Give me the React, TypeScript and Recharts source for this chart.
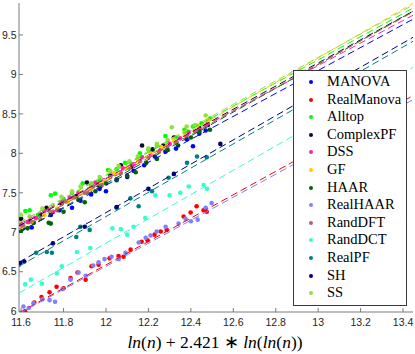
import React from 'react';
import { ComposedChart, Scatter, XAxis, YAxis, Legend } from 'recharts';

const seriesNames = [
  'MANOVA', 'RealManova', 'Alltop', 'ComplexPF', 'DSS', 'GF', 'HAAR',
  'RealHAAR', 'RandDFT', 'RandDCT', 'RealPF', 'SH', 'SS',
];
const seriesColors = [
  '#0000ff', '#ff0000', '#00ff00', '#0a0a2a', '#ff22aa', '#ffcc00', '#006600',
  '#8080ff', '#b36666', '#33ffcc', '#008080', '#000080', '#99dd44',
];

const xTicks = [11.6, 11.8, 12, 12.2, 12.4, 12.6, 12.8, 13, 13.2, 13.4];
const yTicks = [6, 6.5, 7, 7.5, 8, 8.5, 9, 9.5];

// fitted lines, value at both ends of the x range
const fitX = [11.59, 13.447];
const fitStartY = [7.0, 5.98, 7.12, 7.08, 7.1, 7.03, 7.0, 5.97, 7.04, 6.23, 6.57, 6.62, 7.12];
const fitEndY = [9.7, 8.73, 9.84, 9.8, 9.75, 9.9, 9.8, 8.68, 9.79, 9.09, 9.42, 9.47, 9.88];

const manovaPts = [
  [11.61, 7.05], [11.65, 7.06], [11.69, 7.22], [11.74, 7.22], [11.78, 7.28], [11.84, 7.31],
  [11.88, 7.4], [11.93, 7.48], [11.97, 7.55], [12.0, 7.52], [12.05, 7.66], [12.1, 7.7],
  [12.13, 7.78], [12.18, 7.85], [12.21, 8.04], [12.23, 7.96], [12.28, 8.02], [12.33, 8.06],
  [12.38, 8.18], [12.41, 8.09], [12.44, 8.25], [12.47, 8.29],
];
const realManovaPts = [
  [11.619, 6.0], [11.662, 6.11], [11.696, 6.18], [11.734, 6.24], [11.767, 6.31], [11.8, 6.29],
  [11.833, 6.42], [11.866, 6.49], [11.904, 6.4], [11.932, 6.57], [11.965, 6.59], [12.017, 6.67],
  [12.059, 6.7], [12.083, 6.69], [12.116, 6.78], [12.168, 6.88], [12.196, 6.9], [12.229, 6.97],
  [12.258, 7.01], [12.286, 7.03], [12.366, 7.2], [12.399, 7.25], [12.427, 7.33], [12.46, 7.28],
  [12.475, 7.26],
];
const alltopPts = [
  [11.59, 7.19], [11.62, 7.27], [11.64, 7.28], [11.68, 7.22], [11.74, 7.47], [11.76, 7.49],
  [11.8, 7.42], [11.84, 7.5], [11.89, 7.62], [11.93, 7.6], [11.97, 7.66], [12.01, 7.79],
  [12.05, 7.8], [12.09, 7.88], [12.12, 7.86], [12.16, 8.0], [12.2, 8.05], [12.24, 8.1],
  [12.28, 8.22], [12.33, 8.2], [12.37, 8.3], [12.41, 8.34], [12.45, 8.38], [12.49, 8.44],
];
const complexPfPts = [
  [11.6, 7.17], [11.64, 7.14], [11.72, 7.31], [11.79, 7.36], [11.86, 7.46], [11.91, 7.63],
  [11.96, 7.6], [12.02, 7.72], [12.07, 7.85], [12.12, 7.83], [12.17, 8.1], [12.22, 8.05],
  [12.27, 8.1], [12.32, 8.2], [12.38, 8.25], [12.44, 8.32], [12.48, 8.36],
];
const dssPts = [
  [11.6, 7.1], [11.63, 7.13], [11.67, 7.18], [11.71, 7.27], [11.75, 7.26], [11.79, 7.38],
  [11.83, 7.44], [11.87, 7.5], [11.91, 7.52], [11.95, 7.63], [11.99, 7.66], [12.04, 7.74],
  [12.08, 7.81], [12.13, 7.86], [12.17, 7.95], [12.21, 7.98], [12.26, 8.06], [12.3, 8.12],
  [12.35, 8.19], [12.39, 8.27], [12.44, 8.3], [12.48, 8.38],
];
const gfPts = [
  [11.6, 7.04], [11.66, 7.13], [11.71, 7.22], [11.77, 7.3], [11.82, 7.39], [11.88, 7.5],
  [11.93, 7.55], [11.99, 7.65], [12.04, 7.75], [12.1, 7.82], [12.15, 7.92], [12.21, 8.0],
  [12.26, 8.08], [12.32, 8.18], [12.37, 8.26], [12.43, 8.35], [12.48, 8.42],
];
const haarPts = [
  [11.6, 7.02], [11.63, 7.05], [11.66, 7.12], [11.73, 7.12], [11.74, 7.11], [11.8, 7.26],
  [11.87, 7.41], [11.9, 7.38], [11.95, 7.52], [12.0, 7.62], [12.05, 7.67], [12.1, 7.72],
  [12.14, 7.76], [12.19, 7.88], [12.24, 7.93], [12.29, 8.05], [12.34, 8.1], [12.4, 8.2],
  [12.44, 8.28], [12.49, 8.3],
];
const realHaarPts = [
  [11.611, 6.06], [11.636, 6.04], [11.658, 6.1], [11.7, 6.15], [11.734, 6.14], [11.76, 6.12],
  [11.795, 6.28], [11.833, 6.4], [11.871, 6.49], [11.904, 6.45], [11.94, 6.58], [11.965, 6.62],
  [11.993, 6.66], [12.026, 6.69], [12.06, 6.66], [12.092, 6.74], [12.154, 6.87], [12.187, 6.93],
  [12.21, 6.96], [12.239, 7.01], [12.281, 7.07], [12.342, 7.11], [12.375, 7.17], [12.4, 7.14],
  [12.432, 7.16], [12.47, 7.31], [12.498, 7.37],
];
const randDftPts = [
  [11.61, 7.08], [11.65, 7.13], [11.69, 7.17], [11.73, 7.28], [11.77, 7.28], [11.81, 7.39],
  [11.85, 7.44], [11.9, 7.5], [11.94, 7.58], [11.98, 7.6], [12.02, 7.7], [12.07, 7.75],
  [12.11, 7.82], [12.16, 7.9], [12.2, 7.95], [12.25, 8.02], [12.29, 8.1], [12.33, 8.14],
  [12.38, 8.23], [12.42, 8.28], [12.47, 8.35],
];
const randDctPts = [
  [11.619, 6.34], [11.646, 6.4], [11.698, 6.35], [11.768, 6.48], [11.792, 6.57], [11.863, 6.75],
  [11.926, 6.8], [12.03, 7.05], [12.07, 7.04], [12.1, 6.97], [12.13, 7.07], [12.185, 7.18],
  [12.232, 7.47], [12.3, 7.47], [12.35, 7.5], [12.39, 7.58], [12.46, 7.6], [12.476, 7.55],
];
const realPfPts = [
  [11.59, 6.59], [11.671, 6.74], [11.721, 6.75], [11.745, 6.74], [11.86, 6.94], [11.879, 7.07],
  [11.923, 7.03], [12.05, 7.31], [12.115, 7.43], [12.154, 7.33], [12.217, 7.52], [12.295, 7.69],
  [12.382, 7.88], [12.429, 7.96], [12.475, 7.95],
];
const shPts = [
  [11.596, 6.61], [11.615, 6.63], [11.75, 6.86], [11.9, 7.07], [12.05, 7.32], [12.2, 7.55],
  [12.32, 7.74], [12.539, 8.12],
];
const ssPts = [
  [11.6, 7.22], [11.64, 7.2], [11.7, 7.3], [11.75, 7.34], [11.79, 7.45], [11.84, 7.52],
  [11.88, 7.58], [11.93, 7.62], [11.97, 7.7], [12.02, 7.78], [12.06, 7.84], [12.11, 7.9],
  [12.15, 7.96], [12.2, 8.06], [12.24, 8.12], [12.29, 8.17], [12.31, 8.33], [12.38, 8.34],
  [12.42, 8.36], [12.47, 8.48],
];

const seriesPoints = [
  manovaPts, realManovaPts, alltopPts, complexPfPts, dssPts, gfPts, haarPts,
  realHaarPts, randDftPts, randDctPts, realPfPts, shPts, ssPts,
];

const toXY = (pts: number[][]) => pts.map(([x, y]) => ({ x, y }));

const axisColor = '#7a7a7a';
const tickFont = { fontSize: 10.5, fill: '#262626', fontFamily: "'Liberation Sans', Arial, sans-serif" };
const serif = "'Liberation Serif', 'Times New Roman', serif";

function LegendBox() {
  return (
    <div
      style={{
        width: 114,
        height: 236,
        boxSizing: 'border-box',
        border: '1px solid #3a3a3a',
        background: '#fff',
        paddingTop: 2,
        fontFamily: serif,
        fontSize: 14.5,
        color: '#000',
      }}
    >
      {seriesNames.map((name, i) => (
        <div key={name} style={{ position: 'relative', height: 17.6, lineHeight: '17.6px' }}>
          <span
            style={{
              position: 'absolute',
              left: 15,
              top: 7,
              width: 4,
              height: 4,
              borderRadius: 2,
              background: seriesColors[i],
            }}
          />
          <span style={{ position: 'absolute', left: 33 }}>{name}</span>
        </div>
      ))}
    </div>
  );
}

function XLabel() {
  const it = { fontFamily: serif, fontStyle: 'italic' as const };
  const up = { fontFamily: serif, fontStyle: 'normal' as const };
  return (
    <text x={215} y={348} textAnchor="middle" fontFamily={serif} fontSize={17.5} fill="#000">
      <tspan style={it}>ln</tspan>
      <tspan style={up}>(</tspan>
      <tspan style={it}>n</tspan>
      <tspan style={up}>) + 2.421 ∗ </tspan>
      <tspan style={it}>ln</tspan>
      <tspan style={up}>(</tspan>
      <tspan style={it}>ln</tspan>
      <tspan style={up}>(</tspan>
      <tspan style={it}>n</tspan>
      <tspan style={up}>))</tspan>
    </text>
  );
}

export default function App() {
  return (
    <div style={{ position: 'absolute', left: 0, top: 0, width: 415, height: 354, background: '#fff' }}>
      <ComposedChart width={415} height={354} margin={{ top: 3, right: 2, bottom: 0, left: 0 }}>
        <XAxis
          xAxisId="bottom"
          type="number"
          dataKey="x"
          domain={[11.59, 13.447]}
          allowDataOverflow
          ticks={xTicks}
          height={42}
          stroke={axisColor}
          tickSize={-4}
          tickMargin={11}
          tick={tickFont}
          label={{ content: () => <XLabel /> }}
        />
        <XAxis
          xAxisId="top"
          orientation="top"
          type="number"
          dataKey="x"
          domain={[11.59, 13.447]}
          allowDataOverflow
          ticks={xTicks}
          height={0}
          stroke={axisColor}
          tickSize={-4}
          tickFormatter={() => ''}
        />
        <YAxis
          yAxisId="left"
          type="number"
          dataKey="y"
          domain={[5.99, 9.905]}
          allowDataOverflow
          ticks={yTicks}
          width={19}
          stroke={axisColor}
          tickSize={-4}
          tickMargin={6.5}
          tick={tickFont}
        />
        <YAxis
          yAxisId="right"
          orientation="right"
          type="number"
          dataKey="y"
          domain={[5.99, 9.905]}
          allowDataOverflow
          ticks={yTicks}
          width={0}
          stroke={axisColor}
          tickSize={-4}
          tickFormatter={() => ''}
        />
        {seriesNames.map((name, i) => (
          <Scatter
            key={name}
            name={name}
            xAxisId="bottom"
            yAxisId="left"
            data={toXY(seriesPoints[i])}
            fill={seriesColors[i]}
            isAnimationActive={false}
            shape={(p: any) => <circle cx={p.cx} cy={p.cy} r={2.3} fill={seriesColors[i]} />}
          />
        ))}
        {seriesNames.map((name, i) => (
          <Scatter
            key={name + '-fit'}
            xAxisId="bottom"
            yAxisId="left"
            data={[
              { x: fitX[0], y: fitStartY[i] },
              { x: fitX[1], y: fitEndY[i] },
            ]}
            line={{ stroke: seriesColors[i], strokeWidth: 1, strokeDasharray: '7 4' }}
            shape={() => <g />}
            legendType="none"
            isAnimationActive={false}
          />
        ))}
        <Legend
          layout="vertical"
          align="center"
          verticalAlign="middle"
          content={() => <LegendBox />}
          wrapperStyle={{ left: 293, top: 70, width: 114, height: 236 }}
        />
      </ComposedChart>
    </div>
  );
}
